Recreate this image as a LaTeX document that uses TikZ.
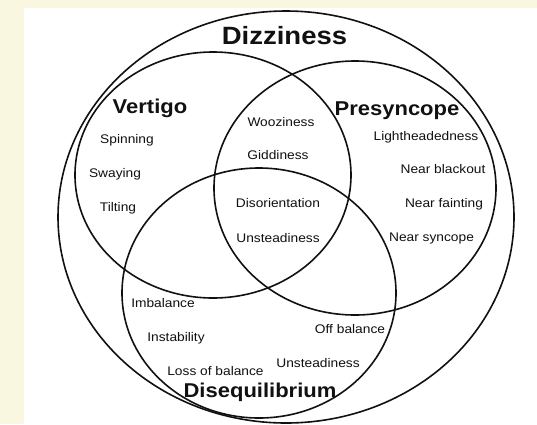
\documentclass[tikz,border=0pt]{standalone}
\usepackage{fontspec}
\setmainfont{Liberation Sans}[FakeStretch=1.1]
\usetikzlibrary{positioning}
\definecolor{parchment}{HTML}{FAF7E0}
\definecolor{inkblack}{HTML}{111111}

\begin{document}
\begin{tikzpicture}[
  x=1pt, y=-1pt,
  ring/.style={inkblack, line width=1.6pt},
  symptom/.style={font=\fontsize{12.5}{14}\selectfont, text=inkblack, inner sep=0pt, anchor=base},
  group/.style={font=\fontsize{20}{24}\selectfont\bfseries, text=inkblack, inner sep=0pt, anchor=base},
]

% Background
\useasboundingbox (0,0) rectangle (537,424);
\fill[parchment] (0,0) rectangle (537,424);
\fill[white] (24,8) rectangle (537,424);

% === Rings ===
\draw[ring] (286,217) ellipse [x radius=228, y radius=206];   % dizziness
\draw[ring] (213,175) ellipse [x radius=138, y radius=123];   % vertigo
\draw[ring] (355,188) ellipse [x radius=141, y radius=127];   % presyncope
\draw[ring] (259,293) ellipse [x radius=137, y radius=125];   % disequilibrium

% === Group titles ===
\node[group, font=\fontsize{25}{30}\selectfont\bfseries] (dizzy) at (284.5,44) {Dizziness};
\node[group] (vertigo) at (150,113) {Vertigo};
\node[group] (presync) at (397,115) {Presyncope};
\node[group] (diseq) at (260,397) {Disequilibrium};

% === Vertigo only ===
\node[symptom] (spin) at (127,143.5) {Spinning};
\node[symptom] (sway) at (115,177.5) {Swaying};
\node[symptom] (tilt) at (118,211.5) {Tilting};

% === Vertigo and presyncope ===
\node[symptom] (woozy) at (281,126.5) {Wooziness};
\node[symptom] (giddy) at (278,159.5) {Giddiness};

% === All three ===
\node[symptom] (disor) at (278,207.5) {Disorientation};
\node[symptom] (unstmid) at (278,242.5) {Unsteadiness};

% === Presyncope only ===
\node[symptom] (light) at (426,140.5) {Lightheadedness};
\node[symptom] (black) at (443,173.5) {Near blackout};
\node[symptom] (faint) at (444,207.5) {Near fainting};
\node[symptom] (nsync) at (431.5,241.5) {Near syncope};

% === Disequilibrium only ===
\node[symptom] (imbal) at (163,307.5) {Imbalance};
\node[symptom] (instab) at (176,341.5) {Instability};
\node[symptom] (offbal) at (350,333.5) {Off balance};
\node[symptom] (unstlow) at (318,367.5) {Unsteadiness};
\node[symptom] (lossbal) at (215.5,375.5) {Loss of balance};

\end{tikzpicture}
\end{document}
